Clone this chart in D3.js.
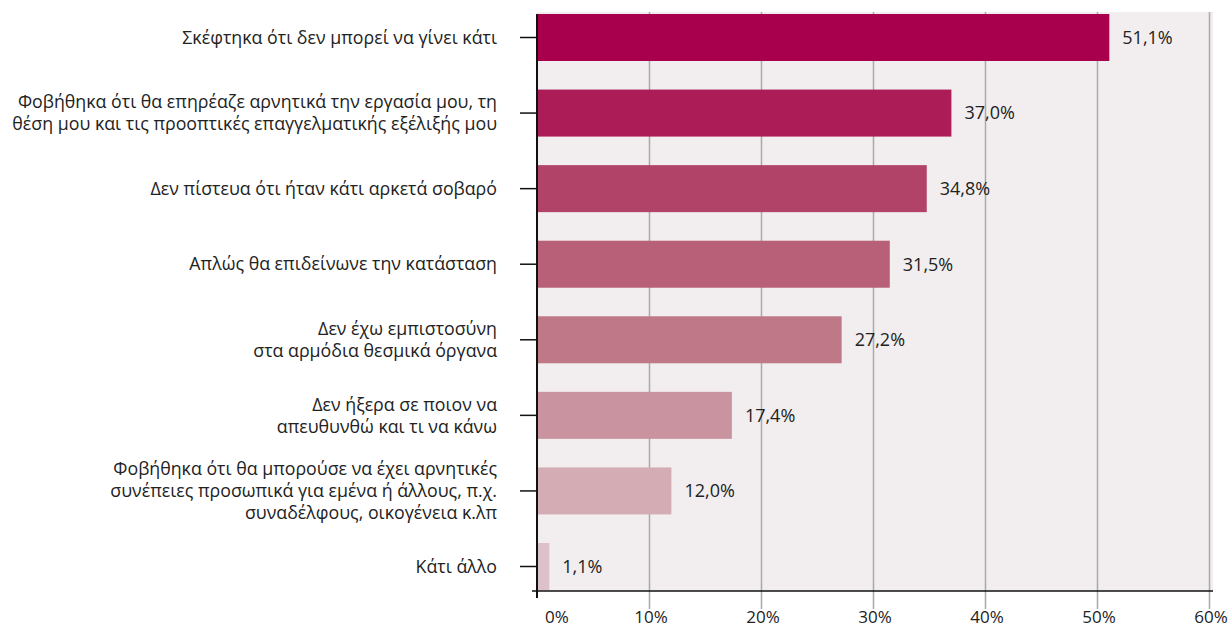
<!DOCTYPE html>
<html lang="el">
<head>
<meta charset="utf-8">
<script src="https://cdn.jsdelivr.net/npm/d3@7"></script>
<style>
  html, body { margin: 0; padding: 0; background: #ffffff; }
  svg text { font-family: "Open Sans", "Noto Sans", sans-serif; fill: #222222; }
</style>
</head>
<body>
<svg id="chart" width="1232" height="628"></svg>
<script>
// Reasons for not reporting, share of respondents (%)
const categories = [
  "Σκέφτηκα ότι δεν μπορεί να γίνει κάτι",
  "Φοβήθηκα ότι θα επηρέαζε αρνητικά την εργασία μου, τη\nθέση μου και τις προοπτικές επαγγελματικής εξέλιξής μου",
  "Δεν πίστευα ότι ήταν κάτι αρκετά σοβαρό",
  "Απλώς θα επιδείνωνε την κατάσταση",
  "Δεν έχω εμπιστοσύνη\nστα αρμόδια θεσμικά όργανα",
  "Δεν ήξερα σε ποιον να\nαπευθυνθώ και τι να κάνω",
  "Φοβήθηκα ότι θα μπορούσε να έχει αρνητικές\nσυνέπειες προσωπικά για εμένα ή άλλους, π.χ.\nσυναδέλφους, οικογένεια κ.λπ",
  "Κάτι άλλο"
];
const values = [51.1, 37.0, 34.8, 31.5, 27.2, 17.4, 12.0, 1.1];
const barColors = ["#a8004c", "#ac1c57", "#b04367", "#b86077", "#be7888", "#c994a0", "#d4acb4", "#dcc2c8"];
const xTicks = [0, 10, 20, 30, 40, 50, 60];

const fmt = v => v.toFixed(1).replace(".", ",") + "%";

const svg = d3.select("#chart");
const plotLeft = 537, plotTop = 12, plotBottom = 591;

const x = d3.scaleLinear().domain([0, 60]).range([plotLeft, plotLeft + 672]);
const y = d3.scaleBand().domain(categories).range([plotTop + 2, plotBottom - 1])
  .paddingInner(0.378).paddingOuter(0);

// plot background
svg.append("rect")
  .attr("x", plotLeft).attr("y", plotTop)
  .attr("width", x(60) + 4 - plotLeft).attr("height", plotBottom - plotTop)
  .attr("fill", "#f2eeef");

// vertical gridlines, running a little below the baseline
const gx = svg.append("g").attr("transform", `translate(0,${plotTop})`)
  .call(d3.axisBottom(x).tickValues(xTicks.slice(1)).tickSize(609 - plotTop).tickFormat(""));
gx.select(".domain").remove();
gx.selectAll(".tick line").attr("stroke", "#a9a9a9").attr("stroke-width", 1.5);

// bars
svg.append("g").selectAll("rect")
  .data(values)
  .join("rect")
  .attr("x", x(0))
  .attr("y", (d, i) => y(categories[i]))
  .attr("width", d => x(d) - x(0))
  .attr("height", y.bandwidth())
  .attr("fill", (d, i) => barColors[i]);

// value labels
svg.append("g").selectAll("text")
  .data(values)
  .join("text")
  .attr("x", d => x(d) + 13)
  .attr("y", (d, i) => y(categories[i]) + y.bandwidth() / 2)
  .attr("dy", "0.35em")
  .attr("font-size", 18)
  .text(fmt);

// left axis with outward ticks
const gy = svg.append("g").attr("transform", `translate(${plotLeft},0)`)
  .call(d3.axisLeft(y).tickSize(17).tickFormat(""));
gy.select(".domain").remove();
gy.selectAll(".tick line").attr("stroke", "#111").attr("stroke-width", 1.5);
svg.append("line")
  .attr("x1", plotLeft).attr("x2", plotLeft).attr("y1", plotTop + 2).attr("y2", 598)
  .attr("stroke", "#111").attr("stroke-width", 2);

// baseline
svg.append("line")
  .attr("x1", plotLeft - 5).attr("x2", x(60) + 4).attr("y1", plotBottom).attr("y2", plotBottom)
  .attr("stroke", "#111").attr("stroke-width", 1.5);

// category labels, right-aligned, multi-line
const lineH = 22;
svg.append("g").selectAll("text")
  .data(categories)
  .join("text")
  .attr("text-anchor", "end")
  .attr("font-size", 17.8)
  .each(function (d) {
    const lines = d.split("\n");
    const cy = y(d) + y.bandwidth() / 2;
    const t = d3.select(this);
    lines.forEach((ln, k) => {
      t.append("tspan")
        .attr("x", 497)
        .attr("y", cy + (k - (lines.length - 1) / 2) * lineH)
        .attr("dy", "0.35em")
        .text(ln);
    });
  });

// x tick labels
svg.append("g").selectAll("text")
  .data(xTicks)
  .join("text")
  .attr("x", d => d === 0 ? x(0) + 8 : x(d) + 2)
  .attr("y", 617)
  .attr("dy", "0.35em")
  .attr("text-anchor", d => d === 0 ? "start" : "middle")
  .attr("font-size", 17)
  .text(d => d + "%");
</script>
</body>
</html>
